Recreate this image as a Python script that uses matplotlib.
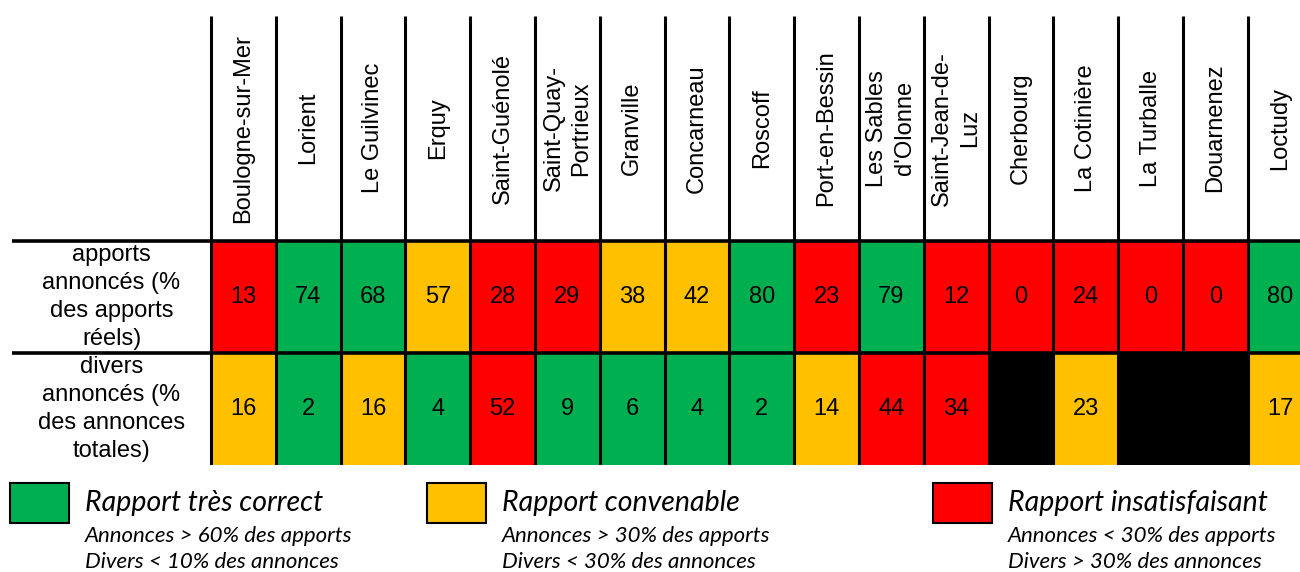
import numpy as np
import matplotlib.pyplot as plt
from matplotlib.colors import ListedColormap
from matplotlib.patches import Rectangle

# Ports and reported shares
ports = ["Boulogne-sur-Mer", "Lorient", "Le Guilvinec", "Erquy", "Saint-Guénolé",
         "Saint-Quay-\nPortrieux", "Granville", "Concarneau", "Roscoff", "Port-en-Bessin",
         "Les Sables\nd'Olonne", "Saint-Jean-de-\nLuz", "Cherbourg", "La Cotinière",
         "La Turballe", "Douarnenez", "Loctudy"]
apports = [13, 74, 68, 57, 28, 29, 38, 42, 80, 23, 79, 12, 0, 24, 0, 0, 80]
divers = [16, 2, 16, 4, 52, 9, 6, 4, 2, 14, 44, 34, None, 23, None, None, 17]
row_labels = ["apports\nannoncés (%\ndes apports\nréels)",
              "divers\nannoncés (%\ndes annonces\ntotales)"]

legend_titles = ["Rapport très correct", "Rapport convenable", "Rapport insatisfaisant"]
legend_lines = [["Annonces > 60% des apports", "Divers < 10% des annonces"],
                ["Annonces > 30% des apports", "Divers < 30% des annonces"],
                ["Annonces < 30% des apports", "Divers > 30% des annonces"]]

GREEN, YELLOW, RED = "#00B050", "#FFC000", "#FF0000"
cmap = ListedColormap(["black", GREEN, YELLOW, RED])


def cat_apports(v):
    if v is None:
        return 0
    return 1 if v > 60 else (2 if v > 30 else 3)


def cat_divers(v):
    if v is None:
        return 0
    return 1 if v < 10 else (2 if v < 30 else 3)


cats = np.array([[cat_apports(v) for v in apports],
                 [cat_divers(v) for v in divers]])

W, H = 1300, 572
fig = plt.figure(figsize=(W / 100, H / 100), dpi=100)
plt.rcParams['font.family'] = ['Liberation Sans', 'DejaVu Sans']

# table axes (pixel box: x 12..1300, y 16..465)
col_w = 64.8
lab_w = (211 - 12) / col_w
ax = fig.add_axes([12 / W, 1 - 465 / H, (W - 12) / W, (465 - 16) / H])
ax.set_xlim(-lab_w, (W - 211) / col_w)
ax.set_ylim(2, -2)
ax.axis("off")

n = len(ports)
ax.pcolormesh(np.arange(n + 1), np.arange(3), cats, cmap=cmap, vmin=-0.5, vmax=3.5)

for i in range(n):
    ax.text(i + 0.5, -1.0, ports[i], rotation=90, ha="center", va="center",
            multialignment="center", fontsize=17, linespacing=1.35)
    for r, vals in enumerate([apports, divers]):
        if vals[i] is not None:
            ax.text(i + 0.5, r + 0.5, str(vals[i]), ha="center", va="center", fontsize=17)

for r, lab in enumerate(row_labels):
    ax.text(-lab_w / 2, r + 0.5, lab, ha="center", va="center",
            multialignment="center", fontsize=17, linespacing=1.35)

ax.vlines(np.arange(n + 1), -2, 2, colors="black", linewidth=2.2)
ax.hlines([0, 1], -lab_w, n, colors="black", linewidth=2.6)

# legend
box_x = [10, 427, 933]
colors = [GREEN, YELLOW, RED]
for k in range(3):
    x0 = box_x[k]
    fig.add_artist(Rectangle((x0 / W, 1 - 523 / H), 59 / W, 40 / H,
                             transform=fig.transFigure, facecolor=colors[k],
                             edgecolor="black", linewidth=1.5))
    fig.text((x0 + 75) / W, 1 - 503 / H, legend_titles[k], family="Lato",
             style="italic", fontsize=20.5, va="center")
    for j, line in enumerate(legend_lines[k]):
        fig.text((x0 + 75) / W, 1 - (536 + 25.5 * j) / H, line, family="Lato",
                 style="italic", fontsize=16, va="center")

fig.savefig("out.png", dpi=100)
